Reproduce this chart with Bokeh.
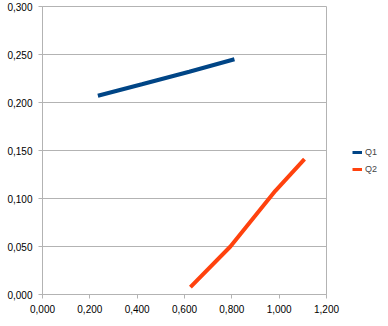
from bokeh.plotting import figure
from bokeh.models import Range1d, FixedTicker, CustomJSTickFormatter, Legend, LegendItem
from bokeh.embed import file_html
from bokeh.resources import INLINE

q1_x = [0.234, 0.42, 0.62, 0.811]
q1_y = [0.207, 0.219, 0.232, 0.245]
q2_x = [0.625, 0.794, 0.984, 1.107]
q2_y = [0.0076, 0.050, 0.108, 0.141]
x_ticks = [0.0, 0.2, 0.4, 0.6, 0.8, 1.0, 1.2]
y_ticks = [0.0, 0.05, 0.10, 0.15, 0.20, 0.25, 0.30]

p = figure(frame_width=284, frame_height=288, output_backend="svg", toolbar_location=None,
           x_range=Range1d(0, 1.2), y_range=Range1d(0, 0.3),
           min_border_left=42, min_border_right=62, min_border_top=6, min_border_bottom=32)
p.background_fill_color = "white"
p.border_fill_color = "white"
p.outline_line_color = "#b3b3b3"

fmt = CustomJSTickFormatter(code="return tick.toFixed(3).replace('.', ',');")
for ax, ticks in ((p.xaxis[0], x_ticks), (p.yaxis[0], y_ticks)):
    ax.ticker = FixedTicker(ticks=ticks)
    ax.formatter = fmt
    ax.axis_line_color = "#b3b3b3"
    ax.major_tick_line_color = "#b3b3b3"
    ax.major_tick_out = 4
    ax.major_tick_in = 0
    ax.minor_tick_line_color = None
    ax.major_label_text_font = "Liberation Sans"
    ax.major_label_text_font_size = "10px"
    ax.major_label_text_color = "black"
    ax.major_label_standoff = 6

p.xgrid.grid_line_color = None
p.ygrid.grid_line_color = "#b3b3b3"
p.ygrid.ticker = FixedTicker(ticks=y_ticks)

r1 = p.line(q1_x, q1_y, line_color="#004586", line_width=4)
r2 = p.line(q2_x, q2_y, line_color="#ff420e", line_width=4)

legend = Legend(items=[LegendItem(label="Q1", renderers=[r1]),
                       LegendItem(label="Q2", renderers=[r2])],
                location=(26, 120), border_line_color=None, background_fill_alpha=0,
                label_text_font="Liberation Sans", label_text_font_size="9px",
                glyph_width=10, glyph_height=3, label_standoff=3, spacing=7,
                label_height=9, padding=4, margin=0)
p.add_layout(legend, "right")

open("out.html", "w").write(file_html(p, INLINE))
